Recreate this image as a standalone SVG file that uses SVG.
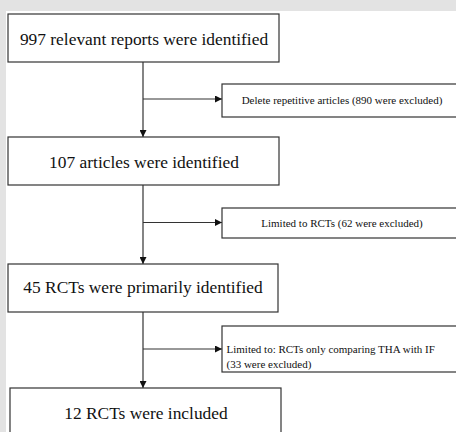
<svg xmlns="http://www.w3.org/2000/svg" width="456" height="432" viewBox="0 0 456 432">
<defs>
<marker id="ah" viewBox="0 0 10 10" refX="10" refY="5" markerWidth="7" markerHeight="7" markerUnits="userSpaceOnUse" orient="auto">
<path d="M0,0 L10,5 L0,10 z" fill="#111"/>
</marker>
<style>
.box{fill:#fff;stroke:#333;stroke-width:1.2}
.main{font-family:"Liberation Serif","Times New Roman","DejaVu Serif",serif;font-size:17.4px;fill:#111;text-anchor:middle}
.side{font-family:"Liberation Serif","Times New Roman","DejaVu Serif",serif;font-size:11px;fill:#111}
.conn{stroke:#333;stroke-width:1.2;fill:none;marker-end:url(#ah)}
</style>
</defs>
<rect x="0" y="0" width="456" height="432" fill="#e3e3e3"/>
<rect x="6" y="11" width="450" height="421" fill="#fff"/>
<g id="connectors">
<line class="conn" x1="143" y1="62" x2="143" y2="137"/>
<line class="conn" x1="143" y1="99" x2="222" y2="99"/>
<line class="conn" x1="143" y1="185" x2="143" y2="264"/>
<line class="conn" x1="143" y1="222.5" x2="222" y2="222.5"/>
<line class="conn" x1="143" y1="312" x2="143" y2="388"/>
<line class="conn" x1="143" y1="349" x2="222" y2="349"/>
</g>
<g id="n1">
<rect class="box" x="8" y="14" width="271" height="48"/>
<text class="main" x="144" y="45">997 relevant reports were identified</text>
</g>
<g id="s1">
<rect class="box" x="222" y="84" width="240" height="33"/>
<text class="side" x="342" y="103.5" text-anchor="middle">Delete repetitive articles (890 were excluded)</text>
</g>
<g id="n2">
<rect class="box" x="8" y="137" width="271" height="48"/>
<text class="main" x="144" y="168">107 articles were identified</text>
</g>
<g id="s2">
<rect class="box" x="222" y="208" width="240" height="30"/>
<text class="side" x="342" y="227" text-anchor="middle">Limited to RCTs (62 were excluded)</text>
</g>
<g id="n3">
<rect class="box" x="8" y="264" width="270" height="48"/>
<text class="main" x="143" y="293">45 RCTs were primarily identified</text>
</g>
<g id="s3">
<rect class="box" x="222" y="326" width="240" height="46"/>
<text class="side" x="226.5" y="352.5">Limited to: RCTs only comparing THA with IF</text>
<text class="side" x="226.5" y="367.5">(33 were excluded)</text>
</g>
<g id="n4">
<rect class="box" x="10" y="388" width="271" height="50"/>
<text class="main" x="146" y="419">12 RCTs were included</text>
</g>
</svg>
